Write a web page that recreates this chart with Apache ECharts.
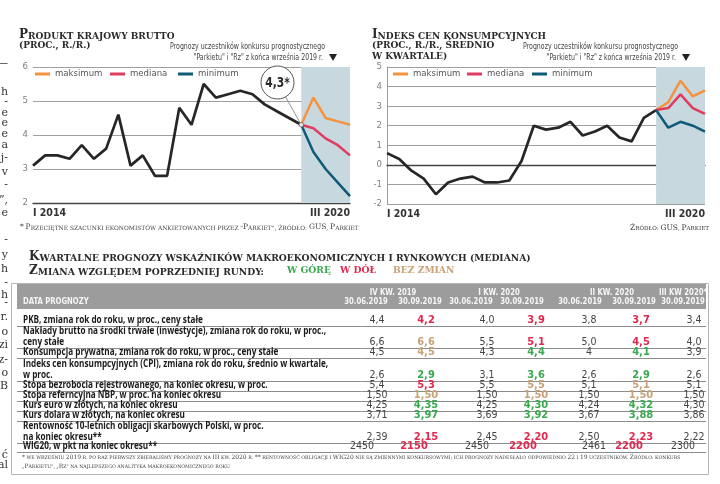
<!DOCTYPE html>
<html><head><meta charset="utf-8">
<script src="https://cdn.jsdelivr.net/npm/echarts@6/dist/echarts.min.js"></script>
<style>html,body{margin:0;padding:0;background:#fff}#c{width:720px;height:484px}</style>
</head><body><div id="c"></div>
<script>
// ---------------- DATA ----------------
const quarters = ['I 2014','II 2014','III 2014','IV 2014','I 2015','II 2015','III 2015','IV 2015',
  'I 2016','II 2016','III 2016','IV 2016','I 2017','II 2017','III 2017','IV 2017',
  'I 2018','II 2018','III 2018','IV 2018','I 2019','II 2019','III 2019','IV 2019',
  'I 2020','II 2020','III 2020'];
const forecastQuarters = ['IV 2019','I 2020','II 2020','III 2020'];

const gdpActual = [3.1,3.4,3.4,3.3,3.7,3.3,3.6,4.6,3.1,3.4,2.8,2.8,4.8,4.3,5.5,5.1,5.2,5.3,5.2,4.9,4.7,4.5,4.3];
const gdpMax = [5.1,4.5,4.4,4.3];
const gdpMed = [4.2,3.9,3.7,3.4];
const gdpMin = [3.5,3.0,2.6,2.2];
const gdpTicks = [2,3,4,5,6];

const cpiActual = [0.6,0.3,-0.3,-0.7,-1.5,-0.9,-0.7,-0.6,-0.9,-0.9,-0.8,0.2,2.0,1.8,1.9,2.2,1.5,1.7,2.0,1.4,1.2,2.4,2.8];
const cpiMax = [3.2,4.3,3.5,3.8];
const cpiMed = [2.9,3.6,2.9,2.6];
const cpiMin = [1.9,2.2,2.0,1.7];
const cpiTicks = [-2,-1,0,1,2,3,4,5];

const seriesNames = ['maksimum','mediana','minimum'];

const tableQuarters = ['IV kw. 2019','I kw. 2020','II kw. 2020','III kw 2020*'];
const tableDates = ['30.06.2019','30.09.2019','30.06.2019','30.09.2019','30.06.2019','30.09.2019','30.09.2019'];
const rowLabels = [
  ['PKB, zmiana rok do roku, w proc., ceny stałe'],
  ['Nakłady brutto na środki trwałe (inwestycje), zmiana rok do roku, w proc.,','ceny stałe'],
  ['Konsumpcja prywatna, zmiana rok do roku, w proc., ceny stałe'],
  ['Indeks cen konsumpcyjnych (CPI), zmiana rok do roku, średnio w kwartale,','w proc.'],
  ['Stopa bezrobocia rejestrowanego, na koniec okresu, w proc.'],
  ['Stopa referncyjna NBP, w proc. na koniec okresu'],
  ['Kurs euro w złotych, na koniec okresu'],
  ['Kurs dolara w złotych, na koniec okresu'],
  ['Rentowność 10-letnich obligacji skarbowych Polski, w proc.','na koniec okresu**'],
  ['WIG20, w pkt na koniec okresu**']
];
const q4_2019_jun = ['4,4','6,6','4,5','2,6','5,4','1,50','4,25','3,71','2,39','2450'];
const q4_2019_sep = ['4,2','6,6','4,5','2,9','5,3','1,50','4,35','3,97','2,15','2150'];
const q1_2020_jun = ['4,0','5,5','4,3','3,1','5,5','1,50','4,25','3,69','2,45','2450'];
const q1_2020_sep = ['3,9','5,1','4,4','3,6','5,5','1,50','4,30','3,92','2,20','2200'];
const q2_2020_jun = ['3,8','5,0','4','2,6','5,1','1,50','4,24','3,67','2,50','2461'];
const q2_2020_sep = ['3,7','4,5','4,1','2,9','5,1','1,50','4,32','3,88','2,23','2200'];
const q3_2020_sep = ['3,4','4,0','3,9','2,6','5,1','1,50','4,30','3,86','2,22','2300'];

// ---------------- STYLE ----------------
const NARROW = '"DejaVu Sans Condensed","Liberation Sans Narrow",sans-serif';
const SERIF = '"DejaVu Serif",serif';
const OPEN = '"Open Sans",sans-serif';
const C_ACT = '#262626', C_MAX = '#f5923e', C_MED = '#e03c5e', C_MIN = '#0f5a78';
const C_UP = '#3aa84e', C_DOWN = '#e0294f', C_SAME = '#c6a276';
const SHADE = '#c7d9de';

const mctx = document.createElement('canvas').getContext('2d');
function fitScale(str, font, target) { mctx.font = font; return target / mctx.measureText(str).width; }

function sc(str, big, small, fill, font, weight) {
  let out = '', cur = null, buf = '';
  for (const ch of str) {
    const isBig = (ch !== ch.toLowerCase()) || /[0-9*]/.test(ch);
    const cls = isBig ? 'B' : 'S';
    const c = ch.toUpperCase();
    if (cls !== cur) { if (buf) out += '{' + cur + '|' + buf + '}'; cur = cls; buf = ''; }
    buf += c;
  }
  if (buf) out += '{' + cur + '|' + buf + '}';
  const w = weight || 'bold';
  return { text: out, rich: {
    B: { fontSize: big, fontFamily: font, fontWeight: w, fill: fill, color: fill, verticalAlign: 'bottom' },
    S: { fontSize: small, fontFamily: font, fontWeight: w, fill: fill, color: fill, verticalAlign: 'bottom' } } };
}
function scText(str, x, y, big, small, fill, font, align, weight, sx) {
  const r = sc(str, big, small, fill, font, weight);
  return { type: 'text', x: x, y: y, scaleX: sx || 1, silent: true, z: 100,
    style: { text: r.text, rich: r.rich, align: align || 'left', verticalAlign: 'middle', fill: fill } };
}
function txt(str, x, y, size, fill, opts) {
  opts = opts || {};
  return { type: 'text', x: x, y: y, scaleX: opts.sx || 1, silent: true, z: 100,
    style: { text: str, fontSize: size, fontFamily: opts.font || NARROW, fontWeight: opts.weight || 'normal',
      fill: fill, align: opts.align || 'left', verticalAlign: 'middle' } };
}

const pad = (arr, actual) => quarters.map((q, i) => {
  const k = forecastQuarters.indexOf(q);
  if (k >= 0) return arr[k];
  if (i === actual.length - 1) return actual[i];
  return '-';
});
const actualData = (actual) => quarters.map((q, i) => i < actual.length ? actual[i] : '-');

function lineS(name, data, color, g, w, z) {
  return { type: 'line', name: name, data: data, xAxisIndex: g, yAxisIndex: g, symbol: 'none',
    lineStyle: { color: color, width: w }, itemStyle: { color: color }, z: z, silent: true, animation: false };
}

const grids = [{ left: 33, top: 67, width: 317, height: 136 }, { left: 387, top: 67, width: 318, height: 137 }];
const ticksets = [gdpTicks, cpiTicks];

const series = [];
[[gdpActual, gdpMax, gdpMed, gdpMin], [cpiActual, cpiMax, cpiMed, cpiMin]].forEach((set, g) => {
  const a = lineS('actual' + g, actualData(set[0]), C_ACT, g, 2.7, 3);
  a.markArea = { silent: true, itemStyle: { color: SHADE },
    data: [[{ xAxis: quarters[set[0].length - 1] }, { xAxis: quarters[quarters.length - 1] }]] };
  series.push(a);
  series.push(lineS(seriesNames[0], pad(set[1], set[0]), C_MAX, g, 2.5, 4));
  series.push(lineS(seriesNames[1], pad(set[2], set[0]), C_MED, g, 2.5, 5));
  series.push(lineS(seriesNames[2], pad(set[3], set[0]), C_MIN, g, 2.5, 6));
});

const legendLeft = [[35, 110, 178], [393, 467, 532]];
const legends = [];
legendLeft.forEach(row => row.forEach((l, k) => legends.push({
  data: [seriesNames[k]], left: l, top: 69, icon: 'rect', itemWidth: 15, itemHeight: 3, padding: 0,
  selectedMode: false, textStyle: { fontSize: 9.5, color: '#555', fontFamily: NARROW }
})));

const option = {
  animation: false,
  backgroundColor: '#fff',
  grid: grids,
  legend: legends,
  xAxis: [0, 1].map(g => ({
    type: 'category', gridIndex: g, data: quarters, boundaryGap: false,
    axisTick: { show: false },
    axisLine: { lineStyle: { color: '#444', width: 1.3 } },
    axisLabel: { interval: (i) => i === 0 || i === quarters.length - 1, alignMinLabel: 'left', alignMaxLabel: 'right',
      color: '#333', fontFamily: NARROW, fontWeight: 'bold', fontSize: 10.5, margin: 5 },
    splitLine: { show: false }
  })),
  yAxis: [0, 1].map(g => ({
    type: 'value', gridIndex: g, min: ticksets[g][0], max: ticksets[g][ticksets[g].length - 1], interval: 1,
    axisLine: { show: g === 1, lineStyle: { color: '#999', width: 1 } }, axisTick: { show: false },
    axisLabel: { color: '#808080', fontFamily: NARROW, fontSize: 9.5, margin: 5 },
    splitLine: { lineStyle: { color: '#a0a0a0', width: 1 } }
  })),
  series: series
};

const chart = echarts.init(document.getElementById('c'));
chart.setOption(option);

// ---------------- GRAPHICS (titles, callout, table) ----------------
const G = [];
G.push(scText('Produkt krajowy brutto', 19, 35, 12, 9, '#2a2a2a', SERIF));
G.push(scText('(proc., r./r.)', 19, 46, 12, 9, '#2a2a2a', SERIF));
G.push(scText('Indeks cen konsumpcyjnych', 372, 35, 12, 9, '#2a2a2a', SERIF));
G.push(scText('(proc., r./r., średnio', 372, 46, 12, 9, '#2a2a2a', SERIF));
G.push(scText('w kwartale)', 372, 57, 12, 9, '#2a2a2a', SERIF));

const sub1 = 'Prognozy uczestników konkursu prognostycznego';
const subSx = fitScale(sub1, '8.5px ' + NARROW, 155);
[[325, 333], [678, 686]].forEach(([rx, tx]) => {
  G.push(txt(sub1, rx, 47, 8.5, '#444', { align: 'right', sx: subSx }));
  G.push(txt('"Parkietu" i "Rz" z końca września 2019 r.', rx - 2, 57.5, 8.5, '#444', { align: 'right', sx: subSx }));
  G.push({ type: 'polygon', silent: true, z: 100, shape: { points: [[tx - 4, 54], [tx + 4, 54], [tx, 61]] }, style: { fill: '#222' } });
});
G.push(scText('* Przeciętne szacunki ekonomistów ankietowanych przez "Parkiet", źródło: GUS, Parkiet', 20, 227.5, 7.5, 5.9, '#444', SERIF, 'left', 'normal'));
G.push(scText('Źródło: GUS, Parkiet', 709, 228, 7.5, 5.6, '#333', SERIF, 'right', 'normal'));

// callout
const p = chart.convertToPixel({ xAxisIndex: 0, yAxisIndex: 0 }, [quarters[gdpActual.length - 1], gdpActual[gdpActual.length - 1]]);
const cc = [277.5, 82.5], cr = 16.5;
const dx = p[0] - cc[0], dy = p[1] - cc[1], dl = Math.sqrt(dx * dx + dy * dy);
G.push({ type: 'line', silent: true, z: 90, shape: { x1: cc[0] + dx / dl * cr, y1: cc[1] + dy / dl * cr, x2: p[0], y2: p[1] }, style: { stroke: '#777', lineWidth: 0.8 } });
G.push({ type: 'circle', silent: true, z: 90, shape: { cx: cc[0], cy: cc[1], r: cr }, style: { fill: '#fff', stroke: '#555', lineWidth: 1 } });
G.push(txt(String(gdpActual[gdpActual.length - 1]).replace('.', ',') + '*', cc[0], cc[1] + 0.5, 14, '#2a2a2a', { align: 'center', weight: 'bold', sx: 0.85 }));
G.push({ type: 'circle', silent: true, z: 95, shape: { cx: p[0], cy: p[1], r: 2.2 }, style: { fill: '#eee', stroke: '#666', lineWidth: 0.8 } });

// left margin fragments (neighbouring column)
const leftFrags = [[63, '—'], [92, 'h'], [102, '-'], [113, 'e'], [123, 'e'], [134, 'e'], [145, 'a'], [158, 'j-'], [172, 'v'], [185, '-'], [200, '”,'], [213, 'e'],
  [240, '-'], [255, 'y'], [269, 'h'], [283, '-'], [295, 'h'], [303, '-'], [317, 'r.'], [332, 'o'], [345, 'zi'], [360, 'z-'], [373, 'o'], [386, 'B'], [455, 'ć'], [465, 'al']];
leftFrags.forEach(([y, s]) => G.push(txt(s, 8, y, 11, '#333', { align: 'right', font: SERIF })));

// table title
G.push(scText('Kwartalne prognozy wskaźników makroekonomicznych i rynkowych (mediana)', 29, 257, 12, 9.2, '#2a2a2a', SERIF));
G.push(scText('Zmiana względem poprzedniej rundy:', 29, 271, 12, 9.2, '#2a2a2a', SERIF));
G.push(scText('w górę', 287, 271, 9.2, 9.2, C_UP, SERIF));
G.push(scText('w dół', 340, 271, 9.2, 9.2, C_DOWN, SERIF));
G.push(scText('bez zmian', 393, 271, 9.2, 9.2, C_SAME, SERIF));

// table frame + header
G.push({ type: 'rect', silent: true, z: 10, shape: { x: 11.5, y: 283.5, width: 697, height: 191 }, style: { fill: '#fff', stroke: '#b5b5b5', lineWidth: 1 } });
G.push({ type: 'rect', silent: true, z: 11, shape: { x: 17, y: 284, width: 689, height: 25 }, style: { fill: '#9c9c9c' } });
const hdrSx = 0.85;
G.push(txt('DATA PROGNOZY', 23, 302, 9, '#f6f6f6', { weight: 'bold', sx: hdrSx }));
const qCenters = [393, 499, 612, 683];
tableQuarters.forEach((q, i) => G.push(txt(q.toUpperCase(), qCenters[i], 293, 9, '#f6f6f6', { align: 'center', weight: 'bold', sx: hdrSx })));
const dCenters = [366, 420, 471, 522, 580, 634, 683];
tableDates.forEach((d, i) => G.push(txt(d, dCenters[i], 302, 9, '#f6f6f6', { align: 'center', weight: 'bold', sx: hdrSx })));

const rowBottoms = [326, 348, 358, 381, 391, 401, 411, 421, 443, 452];
const cols = [q4_2019_jun, q4_2019_sep, q1_2020_jun, q1_2020_sep, q2_2020_jun, q2_2020_sep, q3_2020_sep];
const vCenters = [377, 426, 487, 536, 589, 641, 694];
const wigCenters = [362, 414, 477, 523, 594, 629, 683];
const num = s => parseFloat(s.replace(',', '.'));
const labSx = fitScale(rowLabels[1][0], 'bold 10px ' + OPEN, 303);
rowLabels.forEach((lines, r) => {
  const yb = rowBottoms[r] - 5.5;
  lines.forEach((ln, k) => G.push(txt(ln, 23, yb - (lines.length - 1 - k) * 11.5, 10, '#1a1a1a', { weight: 'bold', font: OPEN, sx: labSx })));
  G.push({ type: 'line', silent: true, z: 12, shape: { x1: 17, y1: rowBottoms[r] + 0.5, x2: 706, y2: rowBottoms[r] + 0.5 }, style: { stroke: '#8c8c8c', lineWidth: 1 } });
  cols.forEach((col, c) => {
    const isNew = c === 1 || c === 3 || c === 5;
    let color = '#444', weight = 'normal';
    if (isNew) {
      const a = num(col[r]), b = num(cols[c - 1][r]);
      color = a > b ? C_UP : (a < b ? C_DOWN : C_SAME);
      weight = 'bold';
    }
    const xc = (r === rowLabels.length - 1 ? wigCenters : vCenters)[c];
    G.push(txt(col[r], xc, yb, isNew ? 11 : 10.5, color, { align: 'center', weight: weight }));
  });
});
G.push(scText('* we wrześniu 2019 r. po raz pierwszy zbieraliśmy prognozy na III kw. 2020 r. ** rentowność obligacji i WIG20 nie są zmiennymi konkursowymi; ich prognozy nadesłało odpowiednio 22 i 19 uczestników. Źródło: konkurs', 22, 457, 6, 4.7, '#444', SERIF, 'left', 'normal'));
G.push(scText('„Parkietu", „Rz" na najlepszego analityka makroekonomicznego roku', 22, 466, 6, 4.7, '#444', SERIF, 'left', 'normal'));

chart.setOption({ graphic: { elements: G } });
</script>
</body></html>
